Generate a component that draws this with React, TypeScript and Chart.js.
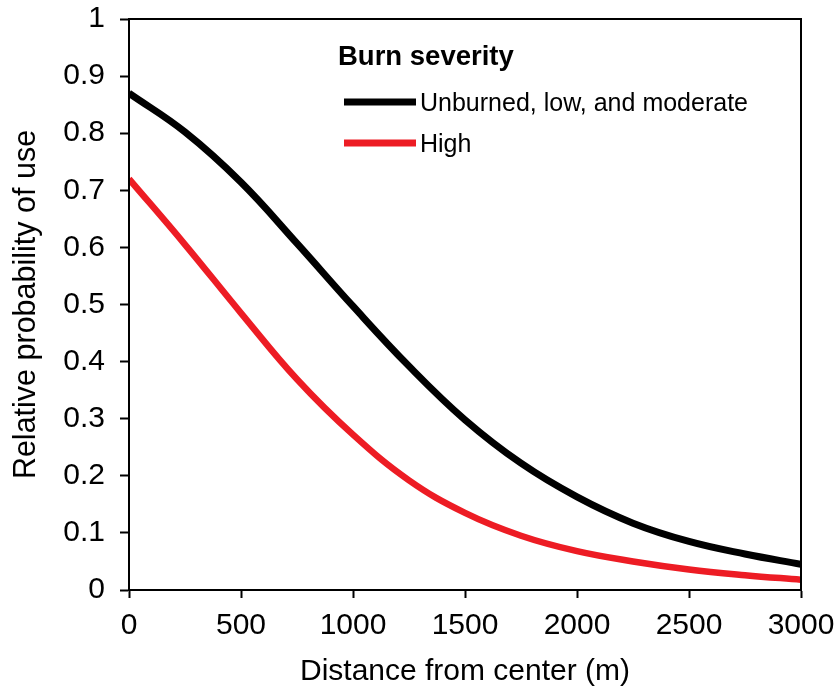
import React, { useEffect, useRef } from "react";
import { Chart, registerables } from "chart.js";

Chart.register(...registerables);

const distances = [0, 250, 500, 750, 1000, 1250, 1500, 1750, 2000, 2250, 2500, 2750, 3000];
const unburnedLowModerate = [0.87, 0.802, 0.714, 0.607, 0.497, 0.392, 0.298, 0.222, 0.163, 0.117, 0.085, 0.063, 0.045];
const highSeverity = [0.72, 0.605, 0.485, 0.369, 0.272, 0.192, 0.135, 0.095, 0.068, 0.05, 0.036, 0.026, 0.018];
const seriesLabels = ["Unburned, low, and moderate", "High"];
const legendTitle = "Burn severity";
const xTitle = "Distance from center (m)";
const yTitle = "Relative probability of use";

const FONT = "'Liberation Sans', Arial, sans-serif";

const frameAndLegend = {
  id: "frameAndLegend",
  afterDraw(chart: any) {
    const { ctx, chartArea } = chart;
    ctx.save();
    ctx.strokeStyle = "#000";
    ctx.lineWidth = 2;
    ctx.strokeRect(chartArea.left, chartArea.top, chartArea.right - chartArea.left, chartArea.bottom - chartArea.top);
    // legend
    ctx.fillStyle = "#000";
    ctx.textBaseline = "alphabetic";
    ctx.textAlign = "left";
    ctx.font = `bold 27.5px ${FONT}`;
    ctx.fillText(legendTitle, 338, 65);
    ctx.font = `25px ${FONT}`;
    const rows = [102, 143];
    chart.data.datasets.forEach((ds: any, i: number) => {
      const y = rows[i];
      ctx.strokeStyle = ds.borderColor;
      ctx.lineWidth = 7;
      ctx.beginPath();
      ctx.moveTo(344, y);
      ctx.lineTo(416, y);
      ctx.stroke();
      ctx.fillText(ds.label, 420, y + 9);
    });
    ctx.restore();
  },
};

export default function App() {
  const ref = useRef<HTMLCanvasElement>(null);
  useEffect(() => {
    document.body.style.margin = "0";
    const toPts = (vals: number[]) => distances.map((d, i) => ({ x: d, y: vals[i] }));
    const chart = new Chart(ref.current!, {
      type: "scatter",
      data: {
        datasets: [
          {
            label: seriesLabels[0],
            data: toPts(unburnedLowModerate),
            showLine: true,
            borderColor: "#000000",
            backgroundColor: "#000000",
            borderWidth: 7,
            pointRadius: 0,
            tension: 0.4,
          },
          {
            label: seriesLabels[1],
            data: toPts(highSeverity),
            showLine: true,
            borderColor: "#ED1C24",
            backgroundColor: "#ED1C24",
            borderWidth: 6.5,
            pointRadius: 0,
            tension: 0.4,
          },
        ],
      },
      options: {
        animation: false,
        responsive: false,
        devicePixelRatio: 1,
        layout: { padding: { top: 19, right: 37, left: 0, bottom: 0 } },
        plugins: { legend: { display: false }, tooltip: { enabled: false } },
        scales: {
          x: {
            type: "linear",
            min: 0,
            max: 3000,
            afterFit: (s: any) => { s.height = 104; s.paddingLeft = 0; s.paddingRight = 0; },
            grid: { drawOnChartArea: false, drawTicks: true, tickLength: 8, tickColor: "#000", tickWidth: 2 },
            border: { color: "#000", width: 2 },
            ticks: { stepSize: 500, color: "#000", font: { family: FONT, size: 30 }, padding: 10, maxRotation: 0, callback: (v: any) => String(v) },
            title: { display: true, text: xTitle, color: "#000", font: { family: FONT, size: 30 }, padding: { top: 4, bottom: 4 } },
          },
          y: {
            type: "linear",
            min: 0,
            max: 1,
            afterFit: (s: any) => { s.width = 129; s.paddingTop = 0; s.paddingBottom = 0; },
            grid: { drawOnChartArea: false, drawTicks: true, tickLength: 9, tickColor: "#000", tickWidth: 2 },
            border: { color: "#000", width: 2 },
            ticks: { stepSize: 0.1, color: "#000", font: { family: FONT, size: 30 }, padding: 15, callback: (v: any) => String(Math.round(Number(v) * 10) / 10) },
            title: { display: true, text: yTitle, color: "#000", font: { family: FONT, size: 30.5 }, padding: { top: 8, bottom: 0 } },
          },
        },
      },
      plugins: [frameAndLegend],
    });
    return () => chart.destroy();
  }, []);
  return (
    <div style={{ position: "absolute", left: 0, top: 0, width: 838, height: 694, background: "#fff" }}>
      <canvas ref={ref} width={838} height={694} style={{ display: "block", width: 838, height: 694 }} />
    </div>
  );
}
